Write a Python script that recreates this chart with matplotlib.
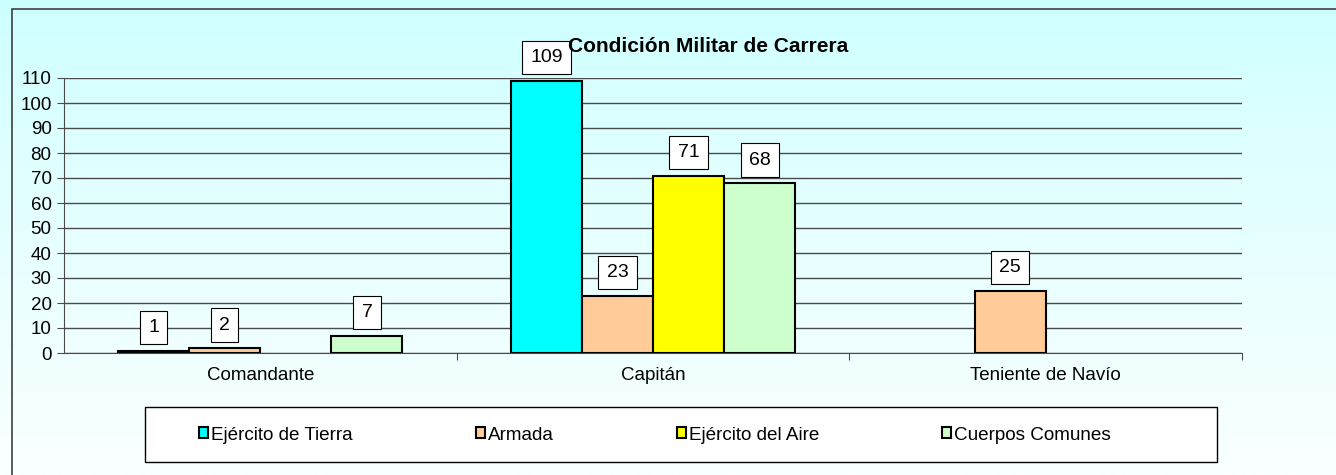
import numpy as np
import matplotlib.pyplot as plt
from matplotlib.patches import Rectangle

plt.rcParams['font.family'] = ['Liberation Sans', 'DejaVu Sans']

# Data
categorias = ["Comandante", "Capitán", "Teniente de Navío"]
series = ["Ejército de Tierra", "Armada", "Ejército del Aire", "Cuerpos Comunes"]
tierra = [1, 109, 0]
armada = [2, 23, 25]
aire = [0, 71, 0]
comunes = [7, 68, 0]
valores = [tierra, armada, aire, comunes]
colores = ["#00FFFF", "#FFCC99", "#FFFF00", "#CCFFCC"]

W, H = 1336, 475
fig = plt.figure(figsize=(W / 100, H / 100), dpi=100)

# gradient background
bg = fig.add_axes([0, 0, 1, 1], zorder=-10)
grad = np.linspace(0, 1, 256).reshape(-1, 1)
top = np.array([0xCC, 0xFF, 0xFF]) / 255
bot = np.array([0xFA, 0xFF, 0xFF]) / 255
img = top + (bot - top) * grad[:, :, None] ** 0.8
bg.imshow(img, aspect="auto", extent=[0, 1, 0, 1], origin="upper")
bg.set_xlim(0, 1)
bg.set_ylim(0, 1)
bg.axis("off")
bg.add_patch(Rectangle((12 / W, -0.1), 1.2, 1 - 9 / H + 0.1, fill=False,
                       edgecolor="#404040", linewidth=1.2))

ax = fig.add_axes([64 / W, 1 - 353 / H, (1242 - 64) / W, (353 - 78) / H])
ax.set_facecolor("none")
ax.set_xlim(-0.5, 2.5)
ax.set_ylim(0, 110)
ax.set_yticks(range(0, 111, 10))
ax.yaxis.grid(True, color="#4a4a4a", linewidth=1)
ax.set_axisbelow(True)
for s in ["top", "right"]:
    ax.spines[s].set_visible(False)
ax.spines["left"].set_color("#4a4a4a")
ax.spines["bottom"].set_color("#4a4a4a")
ax.tick_params(axis="y", length=5, color="#4a4a4a", labelsize=13.5, pad=4)
ax.set_xticks([0.5, 1.5, 2.5], minor=False)
ax.set_xticklabels([])
ax.set_xticks([0, 1, 2], minor=True)
ax.set_xticklabels(categorias, minor=True, fontsize=13.5)
ax.tick_params(axis="x", which="major", length=5, color="#4a4a4a")
ax.tick_params(axis="x", which="minor", length=0, pad=10)

w = 0.181
x = np.arange(len(categorias))
for i, (vals, col, name) in enumerate(zip(valores, colores, series)):
    pos = x + (i - 1.5) * w
    alturas = [v if v > 0 else np.nan for v in vals]
    ax.bar(pos, alturas, width=w, color=col, edgecolor="black", linewidth=1.5,
           label=name, zorder=3)
    for p, v in zip(pos, vals):
        if v > 0:
            ax.annotate(str(v), (p, v), xytext=(0, 16.5), textcoords="offset points",
                        ha="center", va="center", fontsize=14, zorder=5,
                        bbox=dict(boxstyle="square,pad=0.42", facecolor="white",
                                  edgecolor="black", linewidth=0.8))

fig.text(708 / W, 1 - 47 / H, "Condición Militar de Carrera", ha="center",
         va="center", fontsize=15, fontweight="bold")

# legend
bg.add_patch(Rectangle((145 / W, 1 - 462 / H), (1217 - 145) / W, 55 / H,
                       facecolor="white", edgecolor="black", linewidth=1))
handles, labels = ax.get_legend_handles_labels()
fig.legend(handles, labels, ncol=4, loc="center left",
           bbox_to_anchor=(199 / W, 1 - 435 / H), frameon=False, fontsize=13.6,
           handlelength=0.5, handleheight=0.5, handletextpad=0.15,
           columnspacing=6.5, borderaxespad=0, borderpad=0)

fig.savefig("out.png", dpi=100)
